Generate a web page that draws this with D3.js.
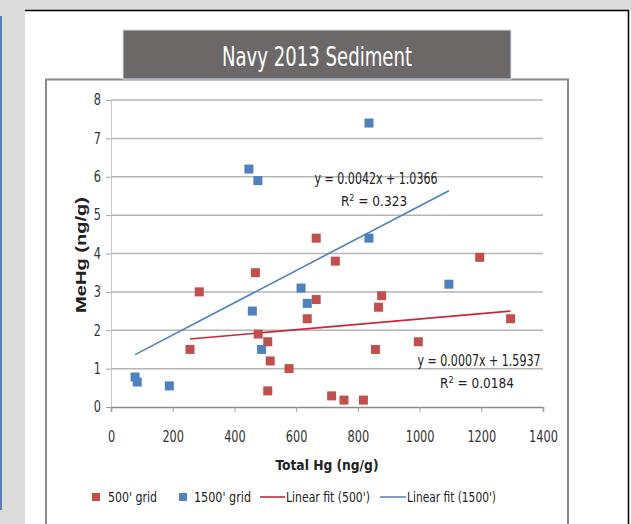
<!DOCTYPE html>
<html>
<head>
<meta charset="utf-8">
<script src="https://cdn.jsdelivr.net/npm/d3@7"></script>
<style>
  body { margin: 0; background: #dcdcdc; }
  svg { display: block; }
  text { font-family: "Liberation Sans Narrow", "DejaVu Sans Condensed", "Liberation Sans", sans-serif; fill: #222; }
</style>
</head>
<body>
<svg id="chart" width="631" height="524"></svg>
<script>
// Sediment samples: total mercury vs. methylmercury (ng/g)
const grid500X = [256, 286, 468, 477, 508, 516, 508, 577, 636, 665, 727, 665, 715, 755, 818, 857, 867, 877, 996, 1195, 1295];
const grid500Y = [1.5, 3.0, 3.5, 1.9, 1.7, 1.2, 0.42, 1.0, 2.3, 2.8, 3.8, 4.4, 0.29, 0.18, 0.18, 1.5, 2.6, 2.9, 1.7, 3.9, 2.3];
const grid1500X = [78, 85, 189, 458, 488, 616, 636, 447, 476, 836, 836, 1095];
const grid1500Y = [0.78, 0.65, 0.55, 2.5, 1.5, 3.1, 2.7, 6.2, 5.9, 7.4, 4.4, 3.2];

// Linear fits as reported on the chart
const fit500 = { slope: 0.0007, intercept: 1.5937, r2: "0.0184" };
const fit1500 = { slope: 0.0042, intercept: 1.0366, r2: "0.323" };

const xTicks = [0, 200, 400, 600, 800, 1000, 1200, 1400];
const yTicks = [0, 1, 2, 3, 4, 5, 6, 7, 8];

const titleText = "Navy 2013 Sediment";
const xTitle = "Total Hg (ng/g)";
const yTitle = "MeHg (ng/g)";
const legendLabels = ["500' grid", "1500' grid", "Linear fit (500')", "Linear fit (1500')"];

const RED = "#c0504d", BLUE = "#4f81bd";

const svg = d3.select("#chart");

// Page frame
svg.append("rect").attr("x", 0).attr("y", 0).attr("width", 631).attr("height", 524).attr("fill", "#dcdcdc");
svg.append("rect").attr("x", 25).attr("y", 10).attr("width", 606).attr("height", 514).attr("fill", "#fff");
svg.append("line").attr("x1", 25).attr("x2", 629).attr("y1", 10.5).attr("y2", 10.5).attr("stroke", "#000").attr("stroke-width", 1.5);
svg.append("line").attr("x1", 628.5).attr("x2", 628.5).attr("y1", 10).attr("y2", 524).attr("stroke", "#000").attr("stroke-width", 1.5);
svg.append("line").attr("x1", 1).attr("x2", 1).attr("y1", 16).attr("y2", 510).attr("stroke", "#5b7fb8").attr("stroke-width", 2);

// Chart box
svg.append("path").attr("d", "M46,524 V79.5 H568 V524").attr("fill", "none").attr("stroke", "#8a8a8a").attr("stroke-width", 2);

// Title banner
svg.append("rect").attr("x", 123).attr("y", 30).attr("width", 388).attr("height", 49)
  .attr("fill", "#6d6868").attr("stroke", "#d6e2ee").attr("stroke-width", 1);
svg.append("text").attr("x", 317).attr("y", 66).attr("text-anchor", "middle")
  .attr("font-size", 27).style("fill", "#fff")
  .attr("textLength", 190).attr("lengthAdjust", "spacingAndGlyphs")
  .text(titleText);

// Scales
const x = d3.scaleLinear().domain([0, 1400]).range([111, 543]);
const y = d3.scaleLinear().domain([0, 8]).range([407, 100]);

// Gridlines
svg.append("g").selectAll("line").data(yTicks.filter(d => d > 0)).join("line")
  .attr("x1", x(0)).attr("x2", x(1400))
  .attr("y1", d => y(d)).attr("y2", d => y(d))
  .attr("stroke", "#b4b4b4").attr("stroke-width", 1.5);

// Axes
const fmt = d3.format("d");
const yAxis = svg.append("g").attr("transform", `translate(${x(0)},0)`)
  .call(d3.axisLeft(y).tickValues(yTicks).tickSize(5).tickPadding(5).tickFormat(fmt));
const xAxis = svg.append("g").attr("transform", `translate(0,${y(0)})`)
  .call(d3.axisBottom(x).tickValues(xTicks).tickSize(5).tickPadding(19).tickFormat(fmt));
yAxis.select(".domain").attr("stroke", "#c8c8c8").attr("stroke-width", 1);
xAxis.select(".domain").attr("stroke", "#8c8c8c").attr("stroke-width", 1.5);
yAxis.selectAll(".tick line").attr("stroke", "#a0a0a0");
xAxis.selectAll(".tick line").attr("stroke", "#a0a0a0");
[yAxis, xAxis].forEach(a => a.selectAll(".tick text")
  .attr("font-size", 15)
  .attr("textLength", d => fmt(d).length * 7.2).attr("lengthAdjust", "spacingAndGlyphs")
  .style("font-family", "'Liberation Sans Narrow', 'DejaVu Sans Condensed', sans-serif").style("fill", "#333"));

// Axis titles
svg.append("text").attr("x", x(700)).attr("y", 470).attr("text-anchor", "middle")
  .attr("font-size", 14).attr("font-weight", "bold")
  .attr("textLength", 103).attr("lengthAdjust", "spacingAndGlyphs").text(xTitle);
svg.append("text").attr("transform", "translate(86,255) rotate(-90)").attr("text-anchor", "middle")
  .attr("font-size", 15).attr("font-weight", "bold")
  .attr("textLength", 116).attr("lengthAdjust", "spacingAndGlyphs")
  .style("font-family", "'Liberation Sans', 'DejaVu Sans', sans-serif").text(yTitle);

// Trend lines from the reported equations, across each series' x range
function fitLine(xs, fit, color) {
  const x0 = d3.min(xs), x1 = d3.max(xs);
  svg.append("line")
    .attr("x1", x(x0)).attr("y1", y(fit.slope * x0 + fit.intercept))
    .attr("x2", x(x1)).attr("y2", y(fit.slope * x1 + fit.intercept))
    .attr("stroke", color).attr("stroke-width", 1.6);
}
fitLine(grid1500X, fit1500, BLUE);
fitLine(grid500X, fit500, "#c8283a");

// Markers
const S = 9;
function markers(xs, ys, color) {
  svg.append("g").selectAll("rect").data(xs.map((v, i) => [v, ys[i]])).join("rect")
    .attr("x", d => x(d[0]) - S / 2).attr("y", d => y(d[1]) - S / 2)
    .attr("width", S).attr("height", S).attr("fill", color);
}
markers(grid500X, grid500Y, RED);
markers(grid1500X, grid1500Y, BLUE);

// Equation labels
function eqLabel(fit, cx, cy) {
  const g = svg.append("g").attr("text-anchor", "middle").attr("font-size", 15);
  g.append("text").attr("x", cx).attr("y", cy)
    .attr("textLength", 123).attr("lengthAdjust", "spacingAndGlyphs")
    .text(`y = ${fit.slope.toFixed(4)}x + ${fit.intercept.toFixed(4)}`);
  const r = g.append("text").attr("x", cx - 2).attr("y", cy + 22).attr("font-size", 13.5);
  r.append("tspan").text("R");
  r.append("tspan").attr("dy", -5).attr("font-size", 9).text("2");
  r.append("tspan").attr("dy", 5).text(` = ${fit.r2}`);
}
eqLabel(fit1500, 376, 184);
eqLabel(fit500, 479, 366);

// Legend
const ly = 497;
const leg = svg.append("g").attr("font-size", 14);
function legText(x0, w, s) {
  leg.append("text").attr("x", x0).attr("y", ly + 5)
    .attr("textLength", w).attr("lengthAdjust", "spacingAndGlyphs").text(s);
}
leg.append("rect").attr("x", 92).attr("y", ly - 4).attr("width", 8).attr("height", 8).attr("fill", RED);
legText(108, 49, legendLabels[0]);
leg.append("rect").attr("x", 179).attr("y", ly - 4).attr("width", 8).attr("height", 8).attr("fill", BLUE);
legText(194, 57, legendLabels[1]);
leg.append("line").attr("x1", 260).attr("x2", 285).attr("y1", ly).attr("y2", ly).attr("stroke", "#b0202a").attr("stroke-width", 1.5);
legText(286, 84, legendLabels[2]);
leg.append("line").attr("x1", 380).attr("x2", 406).attr("y1", ly).attr("y2", ly).attr("stroke", BLUE).attr("stroke-width", 1.5);
legText(407, 89, legendLabels[3]);
</script>
</body>
</html>
